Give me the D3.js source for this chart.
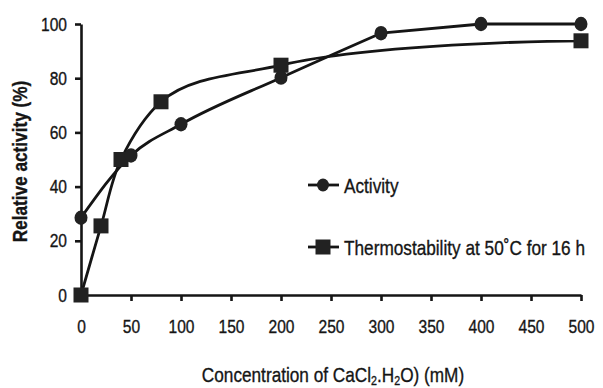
<!DOCTYPE html>
<html>
<head>
<meta charset="utf-8">
<script src="https://cdn.jsdelivr.net/npm/d3@7"></script>
<style>
  html, body { margin: 0; padding: 0; background: #fff; }
  svg { display: block; }
  text { font-family: "Liberation Sans", Arial, sans-serif; fill: #151515; stroke: #151515; stroke-width: 0.35px; }
</style>
</head>
<body>
<svg id="chart" width="603" height="388"></svg>
<script>
// CaCl2 concentration (mM) and relative activity (%)
const activityConc = [0, 50, 100, 200, 300, 400, 500];
const activityValues = [28.5, 51.5, 63, 80.2, 96.6, 100, 100];

// Thermostability after 16 h at 50 °C
const thermoConc = [0, 20, 40, 80, 200, 500];
const thermoValues = [0, 25.5, 50, 71.3, 84.8, 93.8];

const xTicks = [0, 50, 100, 150, 200, 250, 300, 350, 400, 450, 500];
const yTicks = [0, 20, 40, 60, 80, 100];

const seriesNames = ["Activity", "Thermostability at 50˚C for 16 h"];

const svg = d3.select("#chart");
const ink = "#151515";
const narrow = 0.82; // horizontal squeeze for a condensed look

// Place a text at (px, py) and squeeze it horizontally
function placeNarrow(sel, px, py, extra = "") {
  sel.attr("x", 0).attr("y", 0)
    .attr("transform", `translate(${px},${py}) ${extra} scale(${narrow},1)`);
}

const x = d3.scaleLinear().domain([0, 500]).range([81, 581]);
const y = d3.scaleLinear().domain([0, 100]).range([295, 24]);

// Axes
const xAxis = d3.axisBottom(x).tickValues(xTicks).tickSizeInner(6).tickSizeOuter(0).tickPadding(19);
const yAxis = d3.axisLeft(y).tickValues(yTicks).tickSizeInner(6).tickSizeOuter(0).tickPadding(8);

const gx = svg.append("g").attr("transform", `translate(0,${y(0)})`).call(xAxis);
const gy = svg.append("g").attr("transform", `translate(${x(0)},0)`).call(yAxis);

[gx, gy].forEach(g => {
  g.select(".domain").attr("stroke", ink).attr("stroke-width", 2.6);
  g.selectAll(".tick line").attr("stroke", ink).attr("stroke-width", 2.6);
  g.selectAll(".tick text")
    .attr("fill", ink)
    .style("font-size", "19px")
    .style("font-family", "\"Liberation Sans\", Arial, sans-serif")
    .each(function () {
      const t = d3.select(this);
      const tx = +t.attr("x") || 0;
      t.attr("x", tx / narrow).attr("transform", `scale(${narrow},1)`);
    });
});

// Axis titles
svg.append("text")
  .attr("text-anchor", "middle")
  .style("font-size", "21px")
  .style("font-weight", "bold")
  .text("Relative activity (%)")
  .call(placeNarrow, 27, (y(0) + y(100)) / 2 + 2, "rotate(-90)");

const xt = svg.append("text")
  .attr("text-anchor", "middle")
  .style("font-size", "21px");
xt.append("tspan").text("Concentration of CaCl");
xt.append("tspan").attr("dy", 3).style("font-size", "13px").text("2");
xt.append("tspan").attr("dy", -3).text(".H");
xt.append("tspan").attr("dy", 3).style("font-size", "13px").text("2");
xt.append("tspan").attr("dy", -3).text("O) (mM)");
xt.call(placeNarrow, 333, 382);

// Series lines
const straight = d3.line().x(d => x(d[0])).y(d => y(d[1]));
const monotone = d3.line().x(d => x(d[0])).y(d => y(d[1])).curve(d3.curveMonotoneX);
const chordal = d3.line().x(d => x(d[0])).y(d => y(d[1])).curve(d3.curveCatmullRom.alpha(1));

const actData = activityConc.map((c, i) => [c, activityValues[i]]);
const thermoData = thermoConc.map((c, i) => [c, thermoValues[i]]);

// Activity: smooth rise, straight segments along the plateau
const actSmooth = actData.filter(d => d[0] <= 300);
const actFlat = actData.filter(d => d[0] >= 300);

svg.append("path").attr("d", monotone(actSmooth) + straight(actFlat))
  .attr("fill", "none").attr("stroke", ink).attr("stroke-width", 2.8).attr("stroke-linejoin", "round");
svg.append("path").datum(thermoData)
  .attr("d", chordal).attr("fill", "none").attr("stroke", ink).attr("stroke-width", 2.8);

const sq = 15;
svg.append("g").selectAll("rect").data(thermoData).join("rect")
  .attr("x", d => x(d[0]) - sq / 2)
  .attr("y", d => y(d[1]) - sq / 2)
  .attr("width", sq).attr("height", sq)
  .attr("fill", "#222");

svg.append("g").selectAll("ellipse").data(actData).join("ellipse")
  .attr("cx", d => x(d[0]))
  .attr("cy", d => y(d[1]))
  .attr("rx", 6.5).attr("ry", 7.2)
  .attr("fill", "#222");

// Legend
const legend = [
  { name: seriesNames[0], yPos: 185, shape: "circle" },
  { name: seriesNames[1], yPos: 247, shape: "square" }
];
const lg = svg.append("g");
legend.forEach(item => {
  lg.append("line")
    .attr("x1", 308).attr("x2", 339)
    .attr("y1", item.yPos).attr("y2", item.yPos)
    .attr("stroke", ink).attr("stroke-width", 2.8);
  if (item.shape === "circle") {
    lg.append("ellipse").attr("cx", 323).attr("cy", item.yPos)
      .attr("rx", 6).attr("ry", 6.5).attr("fill", "#222");
  } else {
    lg.append("rect").attr("x", 323 - 7.5).attr("y", item.yPos - 7.5)
      .attr("width", 15).attr("height", 15).attr("fill", "#222");
  }
  lg.append("text")
    .style("font-size", "21px")
    .text(item.name)
    .call(placeNarrow, 344, item.yPos + 7.5);
});
</script>
</body>
</html>
